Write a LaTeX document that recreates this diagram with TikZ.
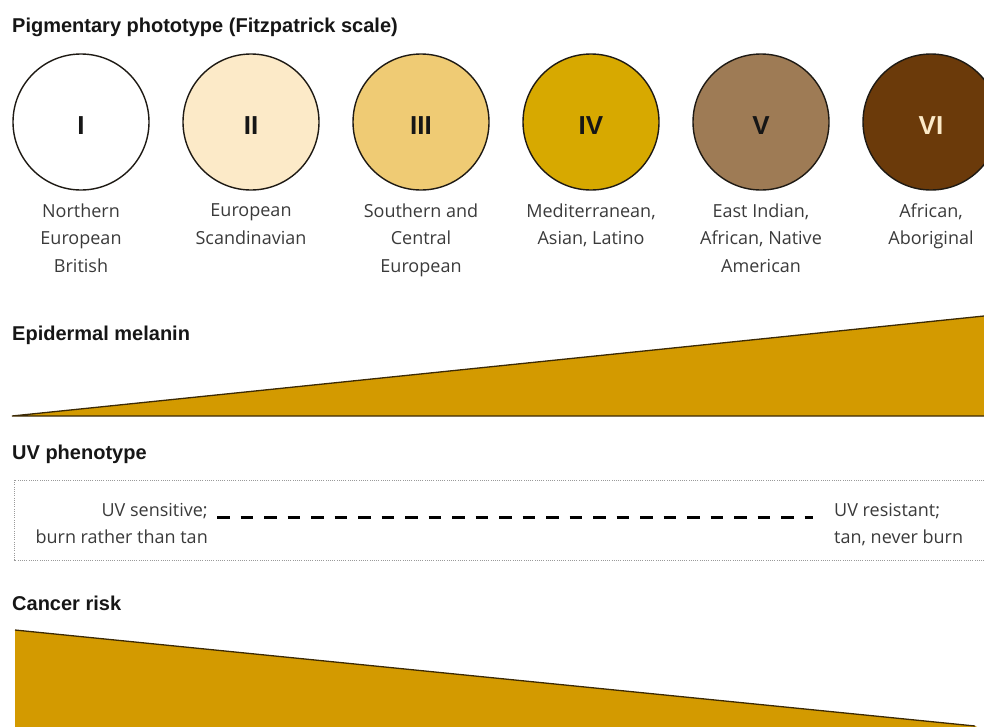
\documentclass[tikz,border=0pt]{standalone}
\usepackage{fontspec}
\setmainfont{Open Sans}
\newfontfamily\hdrfont{Liberation Sans}
\definecolor{titlec}{HTML}{161616}
\definecolor{lblc}{HTML}{3A3A3A}
\definecolor{ringc}{HTML}{1E1A14}
\definecolor{skinA}{HTML}{FFFFFF}
\definecolor{skinB}{HTML}{FCEAC8}
\definecolor{skinC}{HTML}{EFCB74}
\definecolor{skinD}{HTML}{D7A900}
\definecolor{skinE}{HTML}{9E7B55}
\definecolor{skinF}{HTML}{6B3A0A}
\definecolor{wedgec}{HTML}{D39A00}
\definecolor{edgec}{HTML}{3C2A05}
\definecolor{dotc}{HTML}{9A9A9A}
\begin{document}
\begin{tikzpicture}[
  x=1pt, y=-1pt,
  hdr/.style={font=\hdrfont\bfseries\fontsize{20}{24}\selectfont, text=titlec, anchor=base west, inner sep=0},
  skin/.style={circle, draw=ringc, line width=1.4pt, minimum size=136pt, inner sep=0,
               font=\hdrfont\bfseries\fontsize{26}{30}\selectfont, text=titlec},
  lbl/.style={font=\fontsize{18}{27.5}\selectfont, text=lblc, align=center, anchor=north, inner sep=0},
  uvtxt/.style={font=\fontsize{18}{26.5}\selectfont, text=lblc, inner sep=0},
  wedge/.style={fill=wedgec, draw=none},
  wedgeedge/.style={draw=edgec, line width=1.3pt},
]
\useasboundingbox (0,0) rectangle (984,726);
\clip (0,0) rectangle (984,726);

% title
\node[hdr] (title) at (12,32) {Pigmentary phototype (Fitzpatrick scale)};

% circles
\node[skin, fill=skinA] (c1) at (81,122) {};
\node[skin, fill=skinB] (c2) at (251,122) {};
\node[skin, fill=skinC] (c3) at (421,122) {};
\node[skin, fill=skinD] (c4) at (591,122) {};
\node[skin, fill=skinE] (c5) at (761,122) {};
\node[skin, fill=skinF] (c6) at (931,122) {};
\node[font=\hdrfont\bfseries\fontsize{26}{30}\selectfont, text=titlec, inner sep=0, anchor=base] (n1) at (81,134) {I};
\node[font=\hdrfont\bfseries\fontsize{26}{30}\selectfont, text=titlec, inner sep=0, anchor=base] (n2) at (251,134) {II};
\node[font=\hdrfont\bfseries\fontsize{26}{30}\selectfont, text=titlec, inner sep=0, anchor=base] (n3) at (421,134) {III};
\node[font=\hdrfont\bfseries\fontsize{26}{30}\selectfont, text=titlec, inner sep=0, anchor=base] (n4) at (591,134) {IV};
\node[font=\hdrfont\bfseries\fontsize{26}{30}\selectfont, text=titlec, inner sep=0, anchor=base] (n5) at (761,134) {V};
\node[font=\hdrfont\bfseries\fontsize{26}{30}\selectfont, text=skinB, inner sep=0, anchor=base] (n6) at (931,134) {VI};

% labels
\node[lbl] (l1) at (81,203.5) {Northern\\European\\British};
\node[lbl] (l2) at (251,203.5) {European\\Scandinavian};
\node[lbl] (l3) at (421,203.5) {Southern and\\Central\\European};
\node[lbl] (l4) at (591,203.5) {Mediterranean,\\Asian, Latino};
\node[lbl] (l5) at (761,203.5) {East Indian,\\African, Native\\American};
\node[lbl] (l6) at (931,203.5) {African,\\Aboriginal};

% epidermal melanin
\node[hdr] (mel) at (12,340) {Epidermal melanin};
\coordinate (m1) at (12,416);
\coordinate (m2) at (984,316);
\coordinate (m3) at (984,416);
\fill[wedge] (m1) -- (m2) -- (m3) -- cycle;
\draw[wedgeedge] (m2) -- (m1) -- (m3);

% UV phenotype
\node[hdr] (uvp) at (12,459) {UV phenotype};
\draw[dotc, line width=1pt, dash pattern=on 1pt off 1.2pt] (14,480) rectangle (1000,560);
\node[uvtxt, align=right, anchor=north east] (uvs) at (208,503.3) {UV sensitive;\\burn rather than tan};
\node[uvtxt, align=left, anchor=north west] (uvr) at (834,503.3) {UV resistant;\\tan, never burn};
\coordinate (dL) at (217,517);
\coordinate (dR) at (813,517);
\draw[black, line width=3pt, dash pattern=on 12.5pt off 11pt] (dL) -- (dR);

% cancer risk
\node[hdr] (can) at (12,610) {Cancer risk};
\coordinate (k1) at (15,630);
\coordinate (k2) at (975,726);
\coordinate (k3) at (15,730);
\fill[wedge] (k1) -- (k2) -- (984,730) -- (k3) -- cycle;
\draw[wedgeedge] (k1) -- (k2);
\end{tikzpicture}
\end{document}
